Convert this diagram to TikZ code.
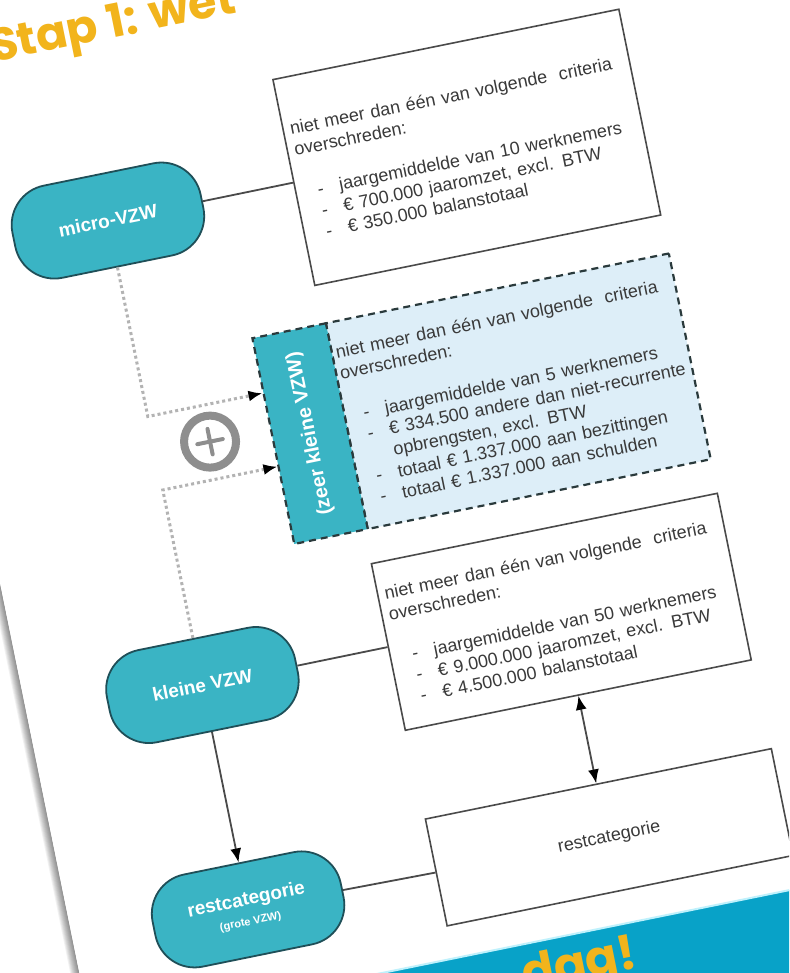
\documentclass[tikz,border=0pt]{standalone}
\usepackage{fontspec}
\setmainfont{Liberation Sans}
\newfontfamily\popfont{Poppins}
\usetikzlibrary{arrows.meta}
\definecolor{tealfill}{HTML}{3AB4C4}
\definecolor{pillborder}{HTML}{1F4F58}
\definecolor{bluefill}{HTML}{DDEEF8}
\definecolor{boxline}{HTML}{4A4A4A}
\definecolor{textgray}{HTML}{3A3A3A}
\definecolor{dashline}{HTML}{2A3A3C}
\definecolor{dotgray}{HTML}{B3B3B3}
\definecolor{plusgray}{HTML}{8E8E8E}
\definecolor{titleyellow}{HTML}{F2B41C}
\definecolor{bandteal}{HTML}{08A2C8}
\definecolor{bandlight}{HTML}{BFF1FC}
\newcommand\bli[1]{\hspace*{15pt}\makebox[22pt][l]{-}#1}
\tikzset{
  pill/.style={draw=pillborder, line width=1.8pt, fill=tealfill, rounded corners=40pt,
    minimum width=192pt, minimum height=94pt, text=white, align=center,
    font=\bfseries\fontsize{19}{22}\selectfont},
  critbox/.style={draw=boxline, line width=1.6pt, fill=white, anchor=north west,
    inner xsep=7pt, inner ysep=0pt, text width=339pt, align=left,
    font=\fontsize{18}{21.5}\selectfont, text=textgray},
  dashbox/.style={draw=dashline, line width=2.2pt, dash pattern=on 7pt off 5pt,
    anchor=north west, minimum height=210pt},
  conn/.style={draw=boxline, line width=1.8pt},
  tip/.style={-{Latex[length=14pt,width=11pt,color=black]}},
  dotarrow/.style={draw=dotgray, line width=3pt, dash pattern=on 3pt off 3pt,
    -{Latex[length=14pt,width=11pt,color=black]}},
  bigtext/.style={anchor=base west, text=titleyellow, inner sep=0pt}
}
\begin{document}
\begin{tikzpicture}[x=1pt,y=-1pt]
\useasboundingbox (0,0) rectangle (789,973);
\clip (0,0) rectangle (789,973);
\fill[white] (0,0) rectangle (789,973);
\begin{scope}[shift={(272,79)},rotate=11.5,transform shape]
  % page shadow and page
  \foreach \i in {1,...,10} {
    \fill[black,opacity=0.05] ({-367-\i*0.9},-400) rectangle (-367,1400);
  }
  \fill[white] (-367,-400) rectangle (1000,1400);
  % title
  \node[bigtext, font=\popfont\bfseries\fontsize{46}{46}\selectfont] (title) at (-270,-72) {Stap 1: wet};
  % bottom band
  \fill[bandteal] (-367,898) rectangle (1000,1400);
  \draw[bandlight, line width=2pt] (-367,898) -- (1000,898);
  \node[bigtext, font=\popfont\bfseries\fontsize{48}{48}\selectfont] (dag) at (66,944) {dag!};

  % criteria boxes
  \node[critbox, minimum height=210pt] (microbox) at (0,0) {niet meer dan één van volgende~ criteria\\
    overschreden:\\[21.5pt]
    \bli{jaargemiddelde van 10 werknemers}\\
    \bli{€ 700.000 jaaromzet, excl. BTW}\\
    \bli{€ 350.000 balanstotaal}};

  \node[dashbox, fill=bluefill, inner xsep=4pt, inner ysep=0pt, text width=342pt, align=left,
    font=\fontsize{18}{21.5}\selectfont, text=textgray] (zeer) at (3,249) {niet meer dan één van volgende~ criteria\\
    overschreden:\\[21.5pt]
    \bli{jaargemiddelde van 5 werknemers}\\
    \bli{€ 334.500 andere dan niet-recurrente}\\
    \hspace*{37pt}opbrengsten, excl. BTW\\
    \bli{totaal € 1.337.000 aan bezittingen}\\
    \bli{totaal € 1.337.000 aan schulden}};
  \node[dashbox, fill=tealfill, minimum width=75pt, inner sep=0pt] (zeerlabel) at (-72,249) {};
  \node[rotate=90, text=white, font=\bfseries\fontsize{20}{22}\selectfont] (zeertext) at (zeerlabel.center) {(zeer kleine VZW)};

  \node[critbox, minimum height=170pt] (kleinebox) at (0,494) {niet meer dan één van volgende~ criteria\\
    overschreden:\\[21.5pt]
    \bli{jaargemiddelde van 50 werknemers}\\
    \bli{€ 9.000.000 jaaromzet, excl. BTW}\\
    \bli{€ 4.500.000 balanstotaal}};

  \node[critbox, minimum height=109pt, align=center] (restbox) at (2,755) {restcategorie};

  % pills
  \node[pill] (micro) at (-189,106) {micro-VZW};
  \node[pill] (kleine) at (-189,580) {kleine VZW};
  \node[pill] (rest) at (-189,809) {restcategorie\\[-2pt]{\fontsize{11}{13}\selectfont (grote VZW)}};

  % plus sign
  \node[circle, draw=plusgray, line width=8pt, minimum size=52pt, inner sep=0pt] (plus) at (-133,343) {};
  \draw[plusgray, line width=4pt, line cap=round] (-146,343) -- (-120,343);
  \draw[plusgray, line width=4pt, line cap=round] (-133,330) -- (-133,356);

  % connectors
  \coordinate (in1) at (-72,306);
  \coordinate (in2) at (-72,381);
  \draw[dotarrow] (micro.south) |- (in1);
  \draw[dotarrow] (kleine.north) |- (in2);
  \draw[conn] (micro.east) -- (microbox.west);
  \draw[conn] (kleine.east) -- (kleinebox.west);
  \draw[conn] (rest.east) -- (restbox.west);
  \draw[conn, tip] (kleine.south) -- (rest.north);
  \draw[conn, {Latex[length=14pt,width=11pt,color=black]}-{Latex[length=14pt,width=11pt,color=black]}] (kleinebox.south) -- (kleinebox.south |- restbox.north);
\end{scope}
\end{tikzpicture}
\end{document}
